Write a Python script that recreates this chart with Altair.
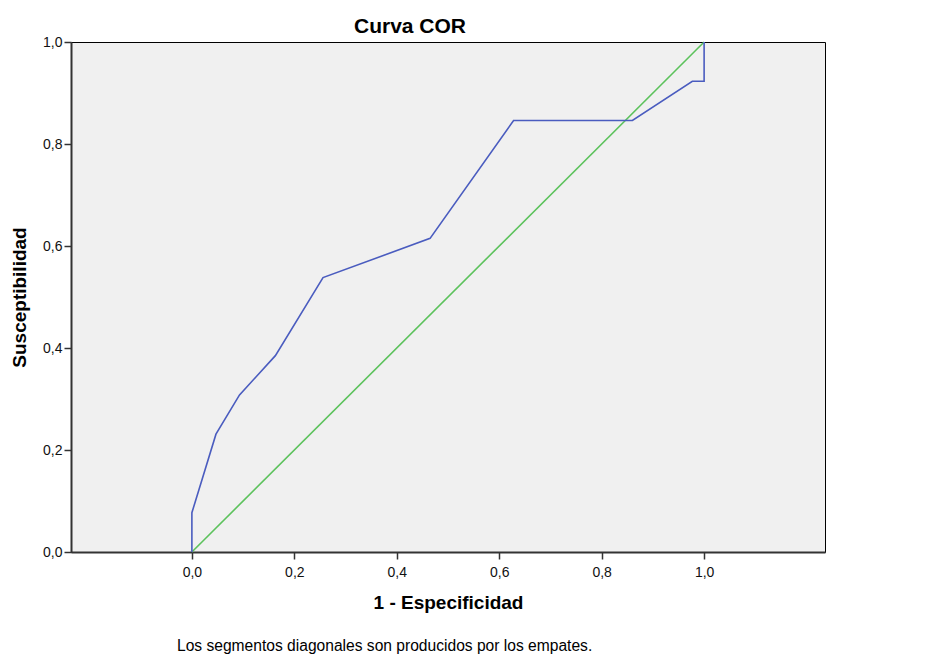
import altair as alt
import pandas as pd

# ROC curve points (1 - especificidad, susceptibilidad)
fpr = [0.0, 0.0, 0.047, 0.093, 0.163, 0.256, 0.465, 0.628, 0.860, 0.977, 1.0, 1.0]
tpr = [0.0, 0.077, 0.231, 0.308, 0.385, 0.538, 0.615, 0.846, 0.846, 0.923, 0.923, 1.0]
ref_x = [0.0, 1.0]
ref_y = [0.0, 1.0]
ticks = [0.0, 0.2, 0.4, 0.6, 0.8, 1.0]
note = ["Los segmentos diagonales son producidos por los empates."]

FONT = "Liberation Sans"
W, H = 754, 510

roc = pd.DataFrame({"x": fpr, "y": tpr, "i": list(range(len(fpr)))})
ref = pd.DataFrame({"x": ref_x, "y": ref_y, "i": [0, 1]})
notes = pd.DataFrame({"t": note})

label_expr = "replace(format(datum.value, '.1f'), '.', ',')"

xscale = alt.Scale(domain=[-0.236, 1.236], nice=False, zero=False)
yscale = alt.Scale(domain=[0, 1], nice=False)

xaxis = alt.Axis(values=ticks, labelExpr=label_expr, title="1 - Especificidad",
                 grid=False, domainColor="#333333", domainWidth=2,
                 tickColor="#333333", tickWidth=1.5, tickSize=7,
                 labelFont=FONT, labelFontSize=14, labelColor="#111111", labelPadding=6,
                 titleFont=FONT, titleFontSize=19, titleFontWeight="bold",
                 titleColor="#000000", titlePadding=14)
yaxis = alt.Axis(values=ticks, labelExpr=label_expr, title="Susceptibilidad",
                 grid=False, domainColor="#333333", domainWidth=2,
                 tickColor="#333333", tickWidth=1.5, tickSize=7,
                 labelFont=FONT, labelFontSize=14, labelColor="#111111", labelPadding=2,
                 titleFont=FONT, titleFontSize=19, titleFontWeight="bold",
                 titleColor="#000000", titlePadding=13)

diag = alt.Chart(ref).mark_line(color="#5cc25c", strokeWidth=1.6).encode(
    x=alt.X("x:Q", scale=xscale, axis=xaxis),
    y=alt.Y("y:Q", scale=yscale, axis=yaxis),
    order="i:Q",
)
curve = alt.Chart(roc).mark_line(color="#4a5cbf", strokeWidth=1.6).encode(
    x=alt.X("x:Q", scale=xscale),
    y=alt.Y("y:Q", scale=yscale),
    order="i:Q",
)
foot = alt.Chart(notes).mark_text(align="left", baseline="alphabetic", font=FONT,
                                  fontSize=15.6, color="#000000").encode(
    x=alt.value(106), y=alt.value(H + 98.5), text="t:N"
)

chart = alt.layer(diag, curve, foot).properties(
    width=W, height=H,
    title=alt.TitleParams("Curva COR", font=FONT, fontSize=21, fontWeight="bold",
                          color="#000000", anchor="middle", offset=-2, dx=-38),
    padding={"left": 71, "top": 42, "right": 111, "bottom": 103},
    autosize=alt.AutoSizeParams(type="none"),
    background="#ffffff",
).configure_view(
    fill="#f0f0f0", stroke="#000000", strokeWidth=1
)

chart.save("out.html", embed_options={"renderer": "svg", "actions": False})
